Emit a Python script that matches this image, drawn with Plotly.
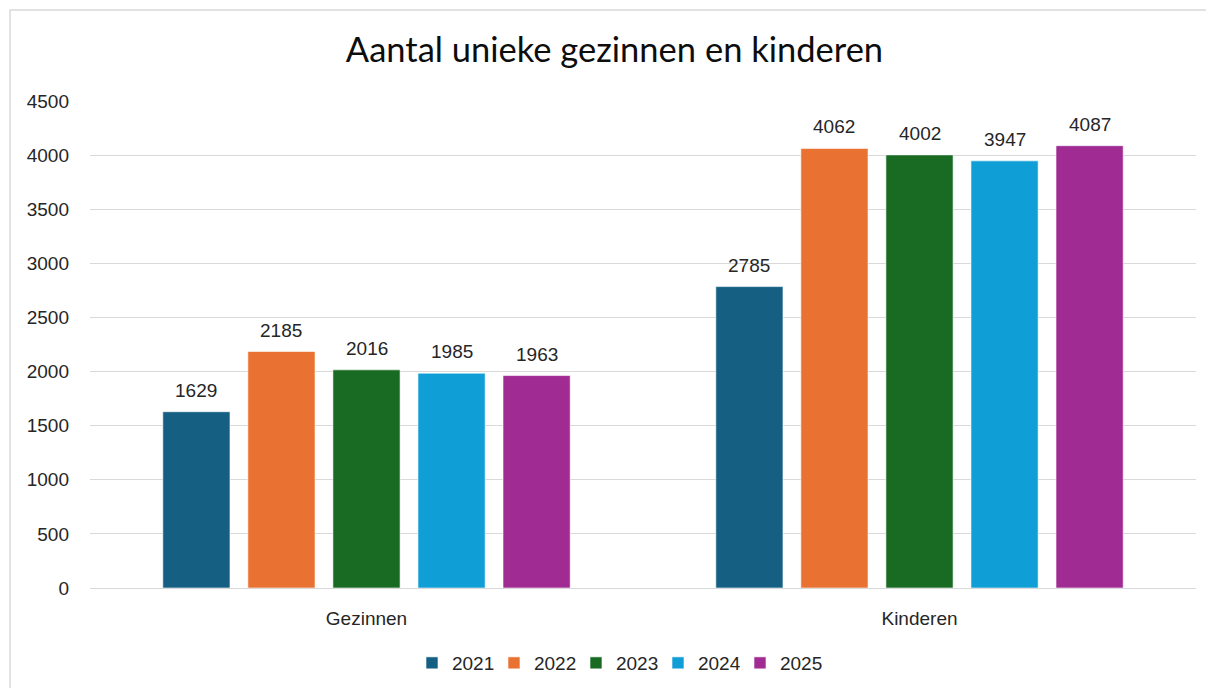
import plotly.graph_objects as go

categories = ["Gezinnen", "Kinderen"]
years = ["2021", "2022", "2023", "2024", "2025"]
values_2021 = [1629, 2785]
values_2022 = [2185, 4062]
values_2023 = [2016, 4002]
values_2024 = [1985, 3947]
values_2025 = [1963, 4087]
series = [values_2021, values_2022, values_2023, values_2024, values_2025]
colors = ["#156082", "#E97132", "#196B24", "#0F9ED5", "#A02B93"]
y_ticks = [0, 500, 1000, 1500, 2000, 2500, 3000, 3500, 4000, 4500]

W, H = 1206, 688
ML, MR, MT, MB = 90, 10, 101, 100
BARGAP = 0.231
plot_w = W - ML - MR
plot_h = H - MT - MB
slot_px = plot_w / len(categories) * (1 - BARGAP) / len(years)

FONT = "Liberation Sans"
FS = 19

fig = go.Figure()
for i, (yr, vals, col) in enumerate(zip(years, series, colors)):
    fig.add_trace(go.Bar(
        name=yr, x=categories, y=vals,
        marker=dict(color=col, line=dict(color="rgba(255,255,255,0.6)", width=1)),
    ))

annotations = []
n = len(years)
for i, vals in enumerate(series):
    for c, v in zip(categories, vals):
        annotations.append(dict(
            x=c, y=v, xref="x", yref="y", text=str(v), showarrow=False,
            xshift=(i - (n - 1) / 2) * slot_px, yshift=9, yanchor="bottom",
            font=dict(family=FONT, size=FS, color="#262626"),
        ))

fig.update_layout(
    width=W, height=H,
    margin=dict(l=ML, r=MR, t=MT, b=MB),
    paper_bgcolor="white", plot_bgcolor="white",
    barmode="group", bargap=BARGAP, bargroupgap=0.21,
    title=dict(text="Aantal unieke gezinnen en kinderen", x=0.5095, xref="container",
               y=1 - 50 / H, yref="container", xanchor="center", yanchor="middle",
               font=dict(family="Lato", size=34.5, color="#0d0d0d")),
    font=dict(family=FONT, size=FS, color="#262626"),
    legend=dict(orientation="h", x=0.5116, xref="container", xanchor="center",
                y=1 - 663 / H, yref="container", yanchor="middle",
                entrywidth=37, itemwidth=30, font=dict(family=FONT, size=FS, color="#262626"),
                traceorder="normal"),
    annotations=annotations,
    shapes=[dict(type="rect", xref="paper", yref="paper",
                 x0=(10 - ML) / plot_w, x1=(W + 5 - ML) / plot_w,
                 y0=-(H + 5 - (H - MB)) / plot_h, y1=((H - MB) - 10) / plot_h,
                 line=dict(color="#d9d9d9", width=1.5), layer="below")],
)
fig.update_yaxes(range=[0, 4500], tickvals=y_ticks, showgrid=True, gridcolor="#d9d9d9",
                 gridwidth=1, zeroline=True, zerolinecolor="#d9d9d9", zerolinewidth=1,
                 showline=False, ticks="", ticklabelstandoff=20,
                 tickfont=dict(family=FONT, size=FS, color="#262626"))
fig.update_xaxes(showgrid=False, showline=False, ticks="", ticklabelstandoff=17,
                 tickfont=dict(family=FONT, size=FS, color="#262626"))

fig.write_html("out.html", config={"displayModeBar": False},
               post_script="document.body.style.margin='0';document.body.style.overflow='hidden';")
